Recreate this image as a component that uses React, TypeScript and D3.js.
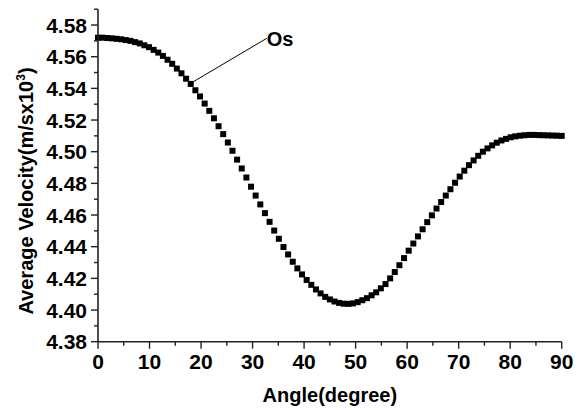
import React from "react";
import * as d3 from "d3";

const angles: number[] = [
  0, 0.9, 1.8, 2.7, 3.6, 4.5, 5.4, 6.3, 7.2, 8.1,
  9, 9.9, 10.8, 11.7, 12.6, 13.5, 14.4, 15.3, 16.2, 17.1,
  18, 18.9, 19.8, 20.7, 21.6, 22.5, 23.4, 24.3, 25.2, 26.1,
  27, 27.9, 28.8, 29.7, 30.6, 31.5, 32.4, 33.3, 34.2, 35.1,
  36, 36.9, 37.8, 38.7, 39.6, 40.5, 41.4, 42.3, 43.2, 44.1,
  45, 45.9, 46.8, 47.7, 48.6, 49.5, 50.4, 51.3, 52.2, 53.1,
  54, 54.9, 55.8, 56.7, 57.6, 58.5, 59.4, 60.3, 61.2, 62.1,
  63, 63.9, 64.8, 65.7, 66.6, 67.5, 68.4, 69.3, 70.2, 71.1,
  72, 72.9, 73.8, 74.7, 75.6, 76.5, 77.4, 78.3, 79.2, 80.1,
  81, 81.9, 82.8, 83.7, 84.6, 85.5, 86.4, 87.3, 88.2, 89.1,
  90,
];

const velocity: number[] = [
  4.5720, 4.5720, 4.5718, 4.5716, 4.5713, 4.5710, 4.5705, 4.5700, 4.5692, 4.5684,
  4.5672, 4.5660, 4.5643, 4.5626, 4.5605, 4.5581, 4.5555, 4.5525, 4.5495, 4.5461,
  4.5428, 4.5388, 4.5349, 4.5304, 4.5258, 4.5211, 4.5161, 4.5111, 4.5058, 4.5006,
  4.4950, 4.4894, 4.4837, 4.4779, 4.4723, 4.4667, 4.4612, 4.4557, 4.4502, 4.4450,
  4.4398, 4.4351, 4.4305, 4.4263, 4.4225, 4.4190, 4.4159, 4.4130, 4.4105, 4.4083,
  4.4067, 4.4054, 4.4045, 4.4040, 4.4039, 4.4042, 4.4050, 4.4062, 4.4075, 4.4093,
  4.4112, 4.4137, 4.4164, 4.4200, 4.4240, 4.4283, 4.4328, 4.4375, 4.4420, 4.4465,
  4.4510, 4.4555, 4.4598, 4.4641, 4.4682, 4.4723, 4.4763, 4.4804, 4.4843, 4.4880,
  4.4915, 4.4945, 4.4974, 4.5000, 4.5021, 4.5040, 4.5057, 4.5071, 4.5081, 4.5091,
  4.5097, 4.5101, 4.5104, 4.5106, 4.5106, 4.5105, 4.5104, 4.5103, 4.5102, 4.5101,
  4.5100,
];

const xTicks: number[] = [0, 10, 20, 30, 40, 50, 60, 70, 80, 90];
const xMinorTicks: number[] = [5, 15, 25, 35, 45, 55, 65, 75, 85];
const yTicks: number[] = [4.38, 4.40, 4.42, 4.44, 4.46, 4.48, 4.50, 4.52, 4.54, 4.56, 4.58];
const yMinorTicks: number[] = [4.39, 4.41, 4.43, 4.45, 4.47, 4.49, 4.51, 4.53, 4.55, 4.57, 4.59];

const seriesLabel = "Os";
const labelAnchor: [number, number] = [18.5, 4.5442];
const labelPos: [number, number] = [32.75, 4.5716];

const xTitle = "Angle(degree)";

export default function App() {
  const W = 581;
  const H = 410;
  const left = 98;
  const right = 561.7;
  const bottom = 341.7;
  const top = 9.2;

  const x = d3.scaleLinear().domain([0, 90]).range([left, right]);
  const y = d3.scaleLinear().domain([4.38, 4.59]).range([bottom, top]);

  const font = "'Liberation Sans', Arial, sans-serif";
  const axisColor = "#222";
  const ms = 6;

  return (
    <svg
      width={W}
      height={H}
      style={{ position: "absolute", left: 0, top: 0, background: "#fff" }}
      fontFamily={font}
      fontWeight="bold"
    >
      <rect x={0} y={0} width={W} height={H} fill="#fff" />
      {/* markers */}
      <g>
        {angles.map((a, i) => (
          <rect
            key={i}
            x={x(a) - ms / 2}
            y={y(velocity[i]) - ms / 2}
            width={ms}
            height={ms}
            fill="#000"
          />
        ))}
      </g>
      {/* axes */}
      <line x1={left} x2={left} y1={top} y2={bottom} stroke={axisColor} strokeWidth={1.6} />
      <line x1={left} x2={right} y1={bottom} y2={bottom} stroke={axisColor} strokeWidth={1.6} />
      {yTicks.map((t) => (
        <g key={"y" + t}>
          <line x1={left - 7} x2={left} y1={y(t)} y2={y(t)} stroke={axisColor} strokeWidth={1.4} />
          <text x={left - 11} y={y(t)} dy="0.36em" textAnchor="end" fontSize={21} fill="#000">
            {t.toFixed(2)}
          </text>
        </g>
      ))}
      {yMinorTicks.map((t) => (
        <line key={"ym" + t} x1={left - 4} x2={left} y1={y(t)} y2={y(t)} stroke={axisColor} strokeWidth={1.4} />
      ))}
      {xTicks.map((t) => (
        <g key={"x" + t}>
          <line x1={x(t)} x2={x(t)} y1={bottom} y2={bottom + 7} stroke={axisColor} strokeWidth={1.4} />
          <text x={x(t)} y={bottom + 27} textAnchor="middle" fontSize={21} fill="#000">
            {t}
          </text>
        </g>
      ))}
      {xMinorTicks.map((t) => (
        <line key={"xm" + t} x1={x(t)} x2={x(t)} y1={bottom} y2={bottom + 4} stroke={axisColor} strokeWidth={1.4} />
      ))}
      {/* axis titles */}
      <text x={(left + right) / 2} y={401.5} textAnchor="middle" fontSize={20} fill="#000">
        {xTitle}
      </text>
      <text
        transform={`translate(33,191) rotate(-90)`}
        textAnchor="middle"
        fontSize={20}
        fill="#000"
      >
        Average Velocity(m/sx10
        <tspan dy="-8" fontSize={12}>3</tspan>
        <tspan dy="8">)</tspan>
      </text>
      {/* annotation */}
      <line
        x1={x(labelAnchor[0])}
        y1={y(labelAnchor[1])}
        x2={x(labelPos[0])}
        y2={y(labelPos[1])}
        stroke="#000"
        strokeWidth={1}
      />
      <text x={x(labelPos[0])} y={y(labelPos[1])} dy="0.36em" fontSize={20} fill="#000">
        {seriesLabel}
      </text>
    </svg>
  );
}
